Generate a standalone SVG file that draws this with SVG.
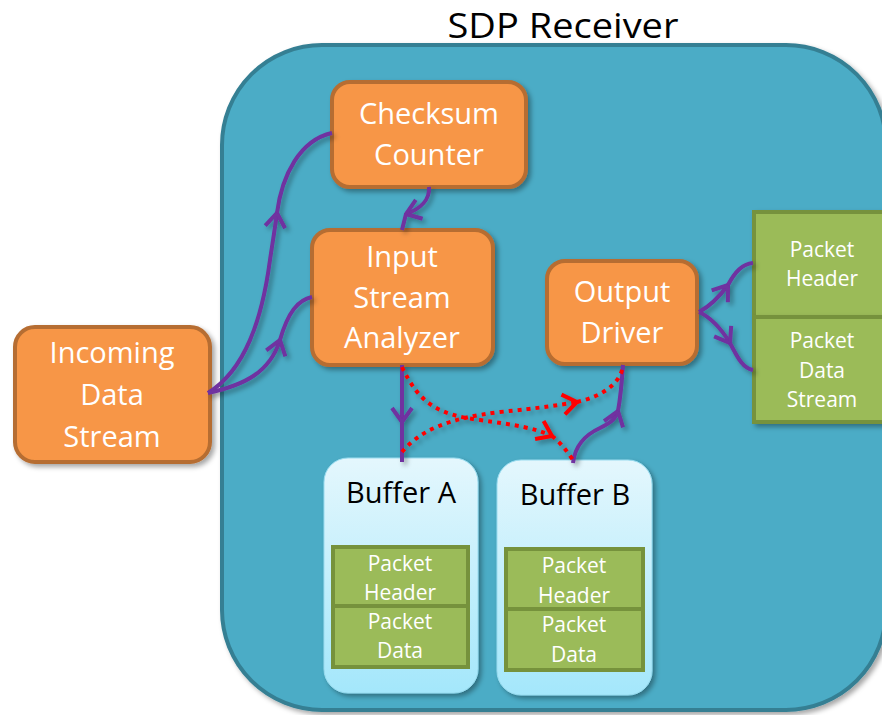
<svg xmlns="http://www.w3.org/2000/svg" width="882" height="715" viewBox="0 0 882 715">
<style>
.t{font-family:"Open Sans","Noto Sans","Liberation Sans",sans-serif;text-anchor:middle}
.ob{fill:#f79646;stroke:#b66d31;stroke-width:4}
.ot{fill:#ffffff;font-size:29px}
.gb{fill:#9bbb59;stroke:#76923c;stroke-width:4}
.gt{fill:#ffffff;font-size:21px}
.bt{fill:#000000;font-size:29px}
.p{fill:none;stroke:#7030a0;stroke-width:4;stroke-linecap:butt}
.r{fill:none;stroke:#ff0000;stroke-width:4;stroke-dasharray:4 5}
</style>
<defs>
<filter id="sh" x="-20%" y="-20%" width="140%" height="140%">
<feDropShadow dx="3" dy="3" stdDeviation="2.5" flood-color="#000" flood-opacity="0.35"/>
</filter>
<linearGradient id="bg" x1="0" y1="0" x2="0" y2="1">
<stop offset="0" stop-color="#e4f7fd"/>
<stop offset="1" stop-color="#a4e7fb"/>
</linearGradient>
<marker id="ap" viewBox="0 0 18 24" refX="16" refY="12" markerWidth="18" markerHeight="24" markerUnits="userSpaceOnUse" orient="auto">
<path d="M2,2 L16,12 L2,22" fill="none" stroke="#7030a0" stroke-width="4"/>
</marker>
<marker id="ar" viewBox="0 0 18 24" refX="16" refY="12" markerWidth="18" markerHeight="24" markerUnits="userSpaceOnUse" orient="auto">
<path d="M2,2 L16,12 L2,22" fill="none" stroke="#ff0000" stroke-width="4"/>
</marker>
</defs>
<rect width="882" height="715" fill="#ffffff"/>

<g id="container">
<rect x="222" y="45" width="664" height="665" rx="100" ry="100" fill="#4bacc6" stroke="#357f93" stroke-width="4" filter="url(#sh)"/>
<text class="t" x="563" y="38" font-size="35" fill="#000" textLength="231" lengthAdjust="spacingAndGlyphs">SDP Receiver</text>
</g>

<g id="checksum-counter">
<rect class="ob" x="332" y="82" width="194" height="105" rx="18" filter="url(#sh)"/>
<text class="t ot" x="429" y="124">Checksum</text>
<text class="t ot" x="429" y="165">Counter</text>
</g>

<g id="input-stream-analyzer">
<rect class="ob" x="312" y="230" width="181" height="135" rx="18" filter="url(#sh)"/>
<text class="t ot" x="402" y="267">Input</text>
<text class="t ot" x="402" y="308">Stream</text>
<text class="t ot" x="402" y="348">Analyzer</text>
</g>

<g id="output-driver">
<rect class="ob" x="547" y="261" width="150" height="103" rx="18" filter="url(#sh)"/>
<text class="t ot" x="622" y="302">Output</text>
<text class="t ot" x="622" y="343">Driver</text>
</g>

<g id="incoming-data-stream">
<rect class="ob" x="15" y="327" width="195" height="135" rx="20" filter="url(#sh)"/>
<text class="t ot" x="112" y="363">Incoming</text>
<text class="t ot" x="112" y="405">Data</text>
<text class="t ot" x="112" y="447">Stream</text>
</g>

<g id="packet-header-out">
<rect class="gb" x="754" y="212" width="140" height="105" filter="url(#sh)"/>
<text class="t gt" x="822" y="257">Packet</text>
<text class="t gt" x="822" y="286">Header</text>
</g>
<g id="packet-data-stream-out">
<rect class="gb" x="754" y="317" width="140" height="105" filter="url(#sh)"/>
<text class="t gt" x="822" y="348">Packet</text>
<text class="t gt" x="822" y="378">Data</text>
<text class="t gt" x="822" y="407">Stream</text>
</g>

<g id="buffer-a">
<rect x="324" y="458" width="154" height="235" rx="24" fill="url(#bg)" stroke="#9adcef" stroke-width="1" filter="url(#sh)"/>
<text class="t bt" x="401" y="503">Buffer A</text>
<rect class="gb" x="333" y="547" width="135" height="59"/>
<rect class="gb" x="333" y="606" width="135" height="61"/>
<text class="t gt" x="400" y="571">Packet</text>
<text class="t gt" x="400" y="600">Header</text>
<text class="t gt" x="400" y="629">Packet</text>
<text class="t gt" x="400" y="658">Data</text>
</g>

<g id="buffer-b">
<rect x="497" y="460" width="155" height="235" rx="24" fill="url(#bg)" stroke="#9adcef" stroke-width="1" filter="url(#sh)"/>
<text class="t bt" x="575" y="505">Buffer B</text>
<rect class="gb" x="506" y="549" width="137" height="60"/>
<rect class="gb" x="506" y="609" width="137" height="61"/>
<text class="t gt" x="574" y="573">Packet</text>
<text class="t gt" x="574" y="603">Header</text>
<text class="t gt" x="574" y="632">Packet</text>
<text class="t gt" x="574" y="662">Data</text>
</g>

<g id="connectors" filter="url(#sh)">
<path class="p" d="M208,393 C245,370 262,320 270,260 C273,240 275,228 277,213" marker-end="url(#ap)"/>
<path class="p" d="M277,213 C282,175 300,140 332,133"/>
<path class="p" d="M208,393 C245,385 270,372 280,340" marker-end="url(#ap)"/>
<path class="p" d="M280,340 C288,312 298,300 312,297"/>
<path class="p" d="M429,187 C430,200 420,209 406,214" marker-end="url(#ap)"/>
<path class="p" d="M406,214 L402,230"/>
<path class="p" d="M402,365 L402,422" marker-end="url(#ap)"/>
<path class="p" d="M402,422 L402,462"/>
<path class="p" d="M573,463 C575,445 585,435 600,428 C610,423 615,420 618,411" marker-end="url(#ap)"/>
<path class="p" d="M618,411 C621,395 622,380 623,365"/>
<path class="p" d="M699,312 C712,305 720,296 728,285" marker-end="url(#ap)"/>
<path class="p" d="M728,285 C735,272 742,264 753,263"/>
<path class="p" d="M699,312 C712,318 722,330 730,343" marker-end="url(#ap)"/>
<path class="p" d="M730,343 C737,356 742,368 753,370"/>
<path class="r" d="M402,367 C420,405 440,415 480,420 C515,425 535,428 552,436" marker-end="url(#ar)"/>
<path class="r" d="M552,436 C560,442 566,450 573,460"/>
<path class="r" d="M402,452 C420,430 450,418 500,412 C540,408 560,405 577,402" marker-end="url(#ar)"/>
<path class="r" d="M577,402 C600,397 620,385 623,366"/>
</g>
</svg>
